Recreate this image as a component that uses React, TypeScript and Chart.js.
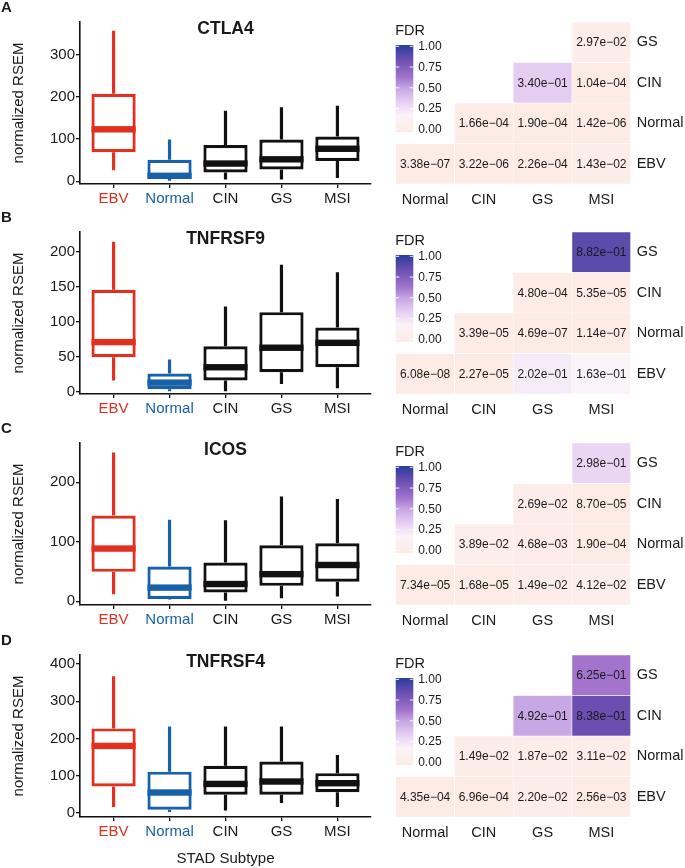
import React, { useEffect, useRef } from "react";
import { Chart, registerables } from "chart.js";

Chart.register(...registerables);

const FONT = "'Liberation Sans', Arial, Helvetica, sans-serif";
const TEXT = "#1a1a1a";

// ---------- box plot data ----------
const subtypes = ["EBV", "Normal", "CIN", "GS", "MSI"];
const subtypeColors = ["#e1301f", "#1761ab", "#111111", "#111111", "#111111"];

const genes = ["CTLA4", "TNFRSF9", "ICOS", "TNFRSF4"];
const panelLetters = ["A", "B", "C", "D"];

const ctla4Min = [26, 1, 4, 4, 8];
const ctla4Q1 = [69, 6, 21, 28, 48];
const ctla4Median = [123, 13, 42, 52, 77];
const ctla4Q3 = [207, 51, 86, 99, 106];
const ctla4Max = [356, 99, 167, 175, 179];
const ctla4Ticks = [0, 100, 200, 300];
const ctla4Range = [-6.4, 377];

const tnfrsf9Min = [16, 0.5, 0.5, 11, 5];
const tnfrsf9Q1 = [49.5, 3.5, 16, 28, 35];
const tnfrsf9Median = [71, 13, 35, 63, 70];
const tnfrsf9Q3 = [146, 26, 65, 114, 92];
const tnfrsf9Max = [215, 46, 122, 182, 171];
const tnfrsf9Ticks = [0, 50, 100, 150, 200];
const tnfrsf9Range = [-3.3, 228.8];

const icosMin = [12, 3, 1, 5, 8];
const icosQ1 = [49.5, 4, 15, 26, 33];
const icosMedian = [88.6, 23, 29, 45.6, 61];
const icosQ3 = [144, 58.5, 65, 94, 97.5];
const icosMax = [250, 137, 136, 176, 172];
const icosTicks = [0, 100, 200];
const icosRange = [-6.2, 265.9];

const tnfrsf4Min = [16, 3, 7, 27, 16];
const tnfrsf4Q1 = [71, 9, 49, 49, 56];
const tnfrsf4Median = [180, 55, 78, 84.5, 80];
const tnfrsf4Q3 = [227, 111, 126.5, 138, 107];
const tnfrsf4Max = [367, 232, 232, 232, 156];
const tnfrsf4Ticks = [0, 100, 200, 300, 400];
const tnfrsf4Range = [-10.7, 424];

// ---------- heatmap (FDR) data ----------
const heatCols = ["Normal", "CIN", "GS", "MSI"];
const heatRows = ["EBV", "Normal", "CIN", "GS"];
const legendTicks = [0, 0.25, 0.5, 0.75, 1];

const ctla4Fdr = [
  [3.38e-7, 3.22e-6, 2.26e-4, 1.43e-2],
  [null, 1.66e-4, 1.9e-4, 1.42e-6],
  [null, null, 3.4e-1, 1.04e-4],
  [null, null, null, 2.97e-2],
];
const tnfrsf9Fdr = [
  [6.08e-8, 2.27e-5, 2.02e-1, 1.63e-1],
  [null, 3.39e-5, 4.69e-7, 1.14e-7],
  [null, null, 4.8e-4, 5.35e-5],
  [null, null, null, 8.82e-1],
];
const icosFdr = [
  [7.34e-5, 1.68e-5, 1.49e-2, 4.12e-2],
  [null, 3.89e-2, 4.68e-3, 1.9e-4],
  [null, null, 2.69e-2, 8.7e-5],
  [null, null, null, 2.98e-1],
];
const tnfrsf4Fdr = [
  [4.35e-4, 6.96e-4, 2.2e-2, 2.56e-3],
  [null, 1.49e-2, 1.87e-2, 3.11e-2],
  [null, null, 4.92e-1, 8.38e-1],
  [null, null, null, 6.25e-1],
];

// colour scale for FDR
const fdrStops: [number, number[]][] = [
  [0, [253, 236, 230]],
  [0.17, [250, 243, 249]],
  [0.34, [229, 205, 242]],
  [0.5, [197, 165, 227]],
  [0.625, [162, 116, 204]],
  [0.84, [106, 79, 176]],
  [1, [47, 63, 158]],
];

function fdrColor(v: number): string {
  for (let i = 1; i < fdrStops.length; i++) {
    const [p1, c1] = fdrStops[i];
    const [p0, c0] = fdrStops[i - 1];
    if (v <= p1) {
      const t = (v - p0) / (p1 - p0);
      const c = c0.map((a, k) => Math.round(a + (c1[k] - a) * t));
      return `rgb(${c[0]},${c[1]},${c[2]})`;
    }
  }
  const c = fdrStops[fdrStops.length - 1][1];
  return `rgb(${c[0]},${c[1]},${c[2]})`;
}

function fmtSci(v: number): string {
  const [m, e] = v.toExponential(2).split("e");
  const n = parseInt(e, 10);
  const sign = n < 0 ? "\u2212" : "+";
  return `${m}e${sign}${String(Math.abs(n)).padStart(2, "0")}`;
}

// ---------- layout ----------
const canvasTops = [0, 210, 421, 633];
const canvasHeights = [210, 210, 210, 235];
const PANEL_TOP = 22;
const PANEL_H = 162;

type BoxSpec = {
  gene: string;
  letter: string;
  min: number[];
  q1: number[];
  median: number[];
  q3: number[];
  max: number[];
  ticks: number[];
  range: number[];
  last: boolean;
  height: number;
};

const boxSpecs: BoxSpec[] = [
  { gene: genes[0], letter: panelLetters[0], min: ctla4Min, q1: ctla4Q1, median: ctla4Median, q3: ctla4Q3, max: ctla4Max, ticks: ctla4Ticks, range: ctla4Range, last: false, height: canvasHeights[0] },
  { gene: genes[1], letter: panelLetters[1], min: tnfrsf9Min, q1: tnfrsf9Q1, median: tnfrsf9Median, q3: tnfrsf9Q3, max: tnfrsf9Max, ticks: tnfrsf9Ticks, range: tnfrsf9Range, last: false, height: canvasHeights[1] },
  { gene: genes[2], letter: panelLetters[2], min: icosMin, q1: icosQ1, median: icosMedian, q3: icosQ3, max: icosMax, ticks: icosTicks, range: icosRange, last: false, height: canvasHeights[2] },
  { gene: genes[3], letter: panelLetters[3], min: tnfrsf4Min, q1: tnfrsf4Q1, median: tnfrsf4Median, q3: tnfrsf4Q3, max: tnfrsf4Max, ticks: tnfrsf4Ticks, range: tnfrsf4Range, last: true, height: canvasHeights[3] },
];

const heatData = [ctla4Fdr, tnfrsf9Fdr, icosFdr, tnfrsf4Fdr];

function BoxChart({ spec, top }: { spec: BoxSpec; top: number }) {
  const ref = useRef<HTMLCanvasElement | null>(null);
  useEffect(() => {
    const s = spec;
    const lw = 3.2;
    const extras = {
      id: "boxExtras",
      beforeDatasetsDraw(chart: any) {
        const { ctx, scales } = chart;
        const x = scales.x;
        const y = scales.y;
        ctx.save();
        ctx.lineWidth = lw;
        ctx.lineCap = "butt";
        s.min.forEach((mn, i) => {
          const px = x.getPixelForValue(i + 1);
          ctx.strokeStyle = subtypeColors[i];
          ctx.beginPath();
          ctx.moveTo(px, y.getPixelForValue(s.max[i]));
          ctx.lineTo(px, y.getPixelForValue(s.q3[i]));
          ctx.moveTo(px, y.getPixelForValue(s.q1[i]));
          ctx.lineTo(px, y.getPixelForValue(mn));
          ctx.stroke();
        });
        ctx.restore();
      },
      afterDatasetsDraw(chart: any) {
        const { ctx, scales, chartArea } = chart;
        const y = scales.y;
        const meta = chart.getDatasetMeta(0);
        ctx.save();
        meta.data.forEach((bar: any, i: number) => {
          const p = bar.getProps(["x", "width"], true);
          const py = y.getPixelForValue(s.median[i]);
          ctx.fillStyle = subtypeColors[i];
          ctx.fillRect(p.x - p.width / 2, py - lw, p.width, lw * 2);
        });
        // panel title
        ctx.fillStyle = TEXT;
        ctx.font = `bold 17.5px ${FONT}`;
        ctx.textAlign = "center";
        ctx.textBaseline = "middle";
        ctx.fillText(s.gene, (chartArea.left + chartArea.right) / 2, chartArea.top + 7.5);
        // panel letter
        ctx.font = `bold 15px ${FONT}`;
        ctx.textAlign = "left";
        ctx.fillText(s.letter, 1, chartArea.top - 14);
        ctx.restore();
      },
    };

    const chart = new Chart(ref.current as HTMLCanvasElement, {
      type: "bar",
      data: {
        datasets: [
          {
            data: subtypes.map((_, i) => ({ x: i + 1, y: [s.q1[i], s.q3[i]] })) as any,
            backgroundColor: "#ffffff",
            borderColor: subtypeColors,
            borderWidth: lw,
            borderSkipped: false,
            barPercentage: 0.79,
            categoryPercentage: 1,
          } as any,
        ],
      },
      options: {
        animation: false,
        responsive: false,
        maintainAspectRatio: false,
        devicePixelRatio: 1,
        layout: { padding: { top: PANEL_TOP, right: 9, left: 0, bottom: 0 } },
        plugins: { legend: { display: false }, tooltip: { enabled: false }, title: { display: false } },
        scales: {
          x: {
            type: "linear",
            min: 0.4,
            max: 5.6,
            offset: false,
            afterBuildTicks: (sc: any) => {
              sc.ticks = subtypes.map((_, i) => ({ value: i + 1 }));
            },
            afterFit: (sc: any) => {
              sc.height = s.height - PANEL_TOP - PANEL_H;
            },
            grid: { display: true, offset: false, drawOnChartArea: false, drawTicks: true, tickLength: 4, color: "#111", lineWidth: 1.3 },
            border: { display: true, color: "#111", width: 1.6 },
            ticks: {
              autoSkip: false,
              maxRotation: 0,
              padding: 2,
              callback: (v: any) => subtypes[Math.round(v) - 1],
              color: (c: any) => subtypeColors[c.index] === "#111111" ? TEXT : subtypeColors[c.index],
              font: { family: FONT, size: 15 },
            },
            title: {
              display: s.last,
              text: "STAD Subtype",
              color: TEXT,
              font: { family: FONT, size: 15 },
              padding: { top: 0, bottom: 0 },
            },
          } as any,
          y: {
            type: "linear",
            min: s.range[0],
            max: s.range[1],
            afterBuildTicks: (sc: any) => {
              sc.ticks = s.ticks.map((v) => ({ value: v }));
            },
            afterFit: (sc: any) => {
              sc.width = 80;
            },
            grid: { display: true, drawOnChartArea: false, drawTicks: true, tickLength: 4, color: "#111", lineWidth: 1.3 },
            border: { display: true, color: "#111", width: 1.6 },
            ticks: {
              padding: 1,
              color: TEXT,
              font: { family: FONT, size: 15 },
              callback: (v: any) => String(v),
            },
            title: {
              display: true,
              text: "normalized RSEM",
              color: TEXT,
              font: { family: FONT, size: 15 },
              padding: { top: 10, bottom: 0 },
            },
          } as any,
        },
      },
      plugins: [extras as any],
    });
    return () => chart.destroy();
  }, [spec]);
  return (
    <canvas
      ref={ref}
      width={380}
      height={spec.height}
      style={{ position: "absolute", left: 0, top, width: 380, height: spec.height }}
    />
  );
}

function HeatChart({ fdr, top, height }: { fdr: (number | null)[][]; top: number; height: number }) {
  const ref = useRef<HTMLCanvasElement | null>(null);
  useEffect(() => {
    const extras = {
      id: "heatExtras",
      afterDatasetsDraw(chart: any) {
        const { ctx, chartArea } = chart;
        ctx.save();
        // cell labels
        ctx.fillStyle = TEXT;
        ctx.font = `12px ${FONT}`;
        ctx.textAlign = "center";
        ctx.textBaseline = "middle";
        fdr.forEach((row, r) => {
          const meta = chart.getDatasetMeta(r);
          row.forEach((v, c) => {
            if (v == null) return;
            const bar = meta.data[c];
            const p = bar.getProps(["x", "y", "base"], true);
            ctx.fillText(fmtSci(v), p.x, (p.y + p.base) / 2 + 0.5);
          });
        });
        // colour bar legend
        const lx = chartArea.left;
        const barX = lx;
        const barW = 17.6;
        const barTop = chartArea.top + 23;
        const barBot = chartArea.top + 110;
        const y0 = chartArea.top + 107.3;
        const y1 = chartArea.top + 24.3;
        const grad = ctx.createLinearGradient(0, y0, 0, y1);
        fdrStops.forEach(([p, c]) => grad.addColorStop(p, `rgb(${c[0]},${c[1]},${c[2]})`));
        ctx.fillStyle = grad;
        ctx.fillRect(barX, barTop, barW, barBot - barTop);
        ctx.strokeStyle = "rgba(255,255,255,0.9)";
        ctx.lineWidth = 1;
        legendTicks.forEach((t) => {
          const ty = y0 + (y1 - y0) * t;
          ctx.beginPath();
          ctx.moveTo(barX, ty);
          ctx.lineTo(barX + 3.5, ty);
          ctx.moveTo(barX + barW - 3.5, ty);
          ctx.lineTo(barX + barW, ty);
          ctx.stroke();
          ctx.fillStyle = TEXT;
          ctx.font = `12px ${FONT}`;
          ctx.textAlign = "left";
          ctx.textBaseline = "middle";
          ctx.fillText(t.toFixed(2), barX + 22.5, ty + 0.5);
        });
        ctx.fillStyle = TEXT;
        ctx.font = `14.5px ${FONT}`;
        ctx.textAlign = "left";
        ctx.textBaseline = "middle";
        ctx.fillText("FDR", lx - 0.5, chartArea.top + 9);
        ctx.restore();
      },
    };

    const chart = new Chart(ref.current as HTMLCanvasElement, {
      type: "bar",
      data: {
        labels: heatCols,
        datasets: heatRows.map((_, r) => ({
          data: fdr[r].map((v) => (v == null ? null : [r, r + 1])) as any,
          backgroundColor: fdr[r].map((v) => (v == null ? "rgba(0,0,0,0)" : fdrColor(v))),
          borderColor: "#ffffff",
          borderWidth: 0.6,
          borderSkipped: false,
          grouped: false,
          barPercentage: 1,
          categoryPercentage: 1,
        })) as any,
      },
      options: {
        animation: false,
        responsive: false,
        maintainAspectRatio: false,
        devicePixelRatio: 1,
        layout: { padding: { top: PANEL_TOP, right: 0, left: 15.7, bottom: 0 } },
        plugins: { legend: { display: false }, tooltip: { enabled: false }, title: { display: false } },
        scales: {
          x: {
            type: "category",
            offset: true,
            grid: { display: false, drawTicks: false },
            border: { display: false },
            afterFit: (sc: any) => {
              sc.height = height - PANEL_TOP - PANEL_H;
            },
            ticks: { color: TEXT, font: { family: FONT, size: 14.5 }, padding: 7, maxRotation: 0, autoSkip: false },
          } as any,
          y: {
            type: "linear",
            position: "right",
            min: 0,
            max: 4,
            grid: { display: false, drawTicks: false },
            border: { display: false },
            afterBuildTicks: (sc: any) => {
              sc.ticks = heatRows.map((_, i) => ({ value: i + 0.5 }));
            },
            afterFit: (sc: any) => {
              sc.width = 54.3;
            },
            ticks: {
              color: TEXT,
              font: { family: FONT, size: 14.5 },
              padding: 6,
              callback: (v: any) => heatRows[Math.round(v - 0.5)],
            },
          } as any,
        },
      },
      plugins: [extras as any],
    });
    return () => chart.destroy();
  }, [fdr]);
  return (
    <canvas
      ref={ref}
      width={305}
      height={height}
      style={{ position: "absolute", left: 380, top, width: 305, height }}
    />
  );
}

export default function App() {
  return (
    <div
      style={{
        position: "absolute",
        left: 0,
        top: 0,
        width: 685,
        height: 868,
        background: "#ffffff",
        overflow: "hidden",
      }}
    >
      {boxSpecs.map((spec, i) => (
        <BoxChart key={`b${i}`} spec={spec} top={canvasTops[i]} />
      ))}
      {heatData.map((fdr, i) => (
        <HeatChart key={`h${i}`} fdr={fdr} top={canvasTops[i]} height={canvasHeights[i]} />
      ))}
    </div>
  );
}
